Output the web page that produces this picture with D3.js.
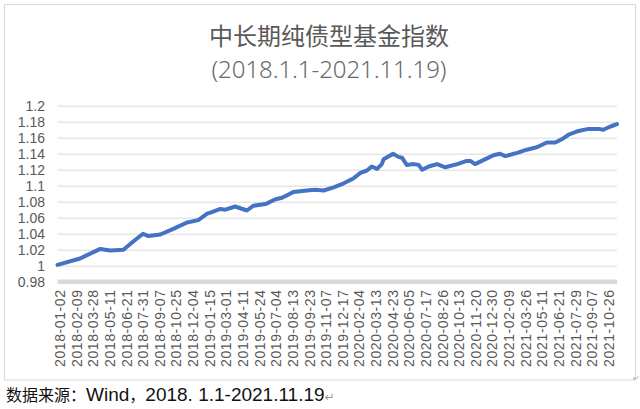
<!DOCTYPE html>
<html>
<head>
<meta charset="utf-8">
<script src="https://cdn.jsdelivr.net/npm/d3@7/dist/d3.min.js"></script>
<style>
  body { margin: 0; background: #fff; }
  svg { display: block; }
</style>
</head>
<body>
<svg id="chart" width="640" height="409"></svg>
<script>
// category labels shown on the x axis (one every 28 trading days)
var xLabels = [
  '2018-01-02', '2018-02-09', '2018-03-28', '2018-05-11', '2018-06-21', '2018-07-31',
  '2018-09-07', '2018-10-25', '2018-12-04', '2019-01-15', '2019-03-01', '2019-04-11',
  '2019-05-24', '2019-07-04', '2019-08-13', '2019-09-23', '2019-11-07', '2019-12-17',
  '2020-02-04', '2020-03-13', '2020-04-23', '2020-06-05', '2020-07-17', '2020-08-26',
  '2020-10-13', '2020-11-20', '2020-12-30', '2021-02-09', '2021-03-26', '2021-05-11',
  '2021-06-21', '2021-07-29', '2021-09-07', '2021-10-26'
];
var labelStep = 28;
var lastDay = 942;

// index: trading day number -> index value
var tradeDay = [
  0, 38, 72, 89, 111, 127, 144, 153, 173, 195, 218, 237, 252, 260, 274, 283,
  299, 319, 330, 350, 367, 378, 397, 420, 434, 448, 465, 482, 498, 510, 521,
  529, 538, 546, 549, 565, 574, 580, 588, 600, 608, 614, 625, 639, 653, 673,
  689, 695, 703, 717, 734, 745, 754, 774, 790, 807, 824, 838, 849, 861, 875,
  894, 911, 919, 931, 942
];
var indexValue = [
  1.001, 1.009, 1.021, 1.019, 1.020, 1.030, 1.040, 1.037, 1.039, 1.046, 1.054, 1.057, 1.065, 1.067, 1.071, 1.070,
  1.074, 1.069, 1.075, 1.077, 1.083, 1.085, 1.092, 1.094, 1.095, 1.094, 1.098, 1.103, 1.109, 1.116, 1.119,
  1.124, 1.121, 1.127, 1.133, 1.140, 1.136, 1.135, 1.126, 1.127, 1.126, 1.120, 1.124, 1.127, 1.123, 1.127,
  1.131, 1.131, 1.127, 1.132, 1.138, 1.140, 1.137, 1.141, 1.145, 1.148, 1.154, 1.154, 1.158, 1.164, 1.168,
  1.171, 1.171, 1.170, 1.174, 1.177
];

var yTicks = [0.98, 1.00, 1.02, 1.04, 1.06, 1.08, 1.10, 1.12, 1.14, 1.16, 1.18, 1.20];

var titleText = '中长期纯债型基金指数';
var subtitleText = '(2018.1.1-2021.11.19)';

var points = tradeDay.map(function(d, i){ return {day: d, v: indexValue[i]}; });

var svg = d3.select('#chart');

// chart frame
svg.append('rect')
  .attr('x', 4.5).attr('y', 4.5)
  .attr('width', 631).attr('height', 375.5)
  .attr('fill', '#fff')
  .attr('stroke', '#d9d9d9');

var x = d3.scaleLinear().domain([0, lastDay]).range([57.5, 617]);
var y = d3.scaleLinear().domain([0.98, 1.2]).range([281.7, 105.7]);

// gridlines
svg.append('g')
  .selectAll('line')
  .data(yTicks.slice(1))
  .enter().append('line')
    .attr('x1', x(0)).attr('x2', x(lastDay))
    .attr('y1', function(d){ return y(d) + 0.5; })
    .attr('y2', function(d){ return y(d) + 0.5; })
    .attr('stroke', '#d9d9d9')
    .attr('stroke-width', 1);

// thick bottom axis line
svg.append('line')
  .attr('x1', x(0)).attr('x2', x(lastDay))
  .attr('y1', y(0.98)).attr('y2', y(0.98))
  .attr('stroke', '#d9d9d9')
  .attr('stroke-width', 4.5);

// y tick labels
svg.append('g')
  .selectAll('text')
  .data(yTicks)
  .enter().append('text')
    .attr('x', 45)
    .attr('y', function(d){ return y(d); })
    .attr('dy', '0.36em')
    .attr('text-anchor', 'end')
    .attr('font-family', 'Liberation Sans, Arial, sans-serif')
    .attr('font-size', 14)
    .attr('fill', '#595959')
    .text(function(d){ return String(+d.toFixed(2)); });

// x tick labels, rotated
svg.append('g')
  .selectAll('text')
  .data(xLabels)
  .enter().append('text')
    .attr('transform', function(d, i){
      return 'translate(' + x(i * labelStep) + ',290) rotate(-90)';
    })
    .attr('dy', '0.54em')
    .attr('text-anchor', 'end')
    .attr('font-family', 'Liberation Sans, Arial, sans-serif')
    .attr('font-size', 14)
    .attr('textLength', 77)
    .attr('lengthAdjust', 'spacing')
    .attr('fill', '#595959')
    .text(function(d){ return d; });

// the index line
var line = d3.line()
  .x(function(d){ return x(d.day); })
  .y(function(d){ return y(d.v); });

svg.append('path')
  .datum(points)
  .attr('d', line)
  .attr('fill', 'none')
  .attr('stroke', '#4472c4')
  .attr('stroke-width', 4)
  .attr('stroke-linejoin', 'round')
  .attr('stroke-linecap', 'round');

// titles
svg.append('text')
  .attr('x', 329).attr('y', 45)
  .attr('text-anchor', 'middle')
  .attr('font-family', 'Noto Sans CJK SC, sans-serif')
  .attr('font-size', 24)
  .attr('fill', '#595959')
  .text(titleText);

svg.append('text')
  .attr('x', 329).attr('y', 78)
  .attr('text-anchor', 'middle')
  .attr('font-family', 'Noto Sans, sans-serif')
  .attr('font-weight', 300)
  .attr('font-size', 24)
  .attr('textLength', 235)
  .attr('fill', '#6a6a6a')
  .text(subtitleText);

// source note under the chart
var src = svg.append('text')
  .attr('x', 6).attr('y', 401)
  .attr('fill', '#111');
src.append('tspan')
  .attr('font-family', 'Noto Sans CJK SC, sans-serif')
  .attr('font-size', 16)
  .text('数据来源：');
src.append('tspan')
  .attr('font-family', 'Liberation Sans, Arial, sans-serif')
  .attr('font-size', 19)
  .text('Wind');
src.append('tspan')
  .attr('font-family', 'Noto Sans CJK SC, sans-serif')
  .attr('font-size', 16)
  .text('，');
src.append('tspan')
  .attr('font-family', 'Liberation Sans, Arial, sans-serif')
  .attr('font-size', 19)
  .text('2018. 1.1-2021.11.19');
src.append('tspan')
  .attr('font-family', 'DejaVu Sans, sans-serif')
  .attr('fill', '#999')
  .attr('font-size', 12)
  .text('↵');

svg.append('text')
  .attr('x', 633).attr('y', 381)
  .attr('font-family', 'DejaVu Sans, sans-serif')
  .attr('font-size', 8)
  .attr('fill', '#aaa')
  .text('↵');
</script>
</body>
</html>
